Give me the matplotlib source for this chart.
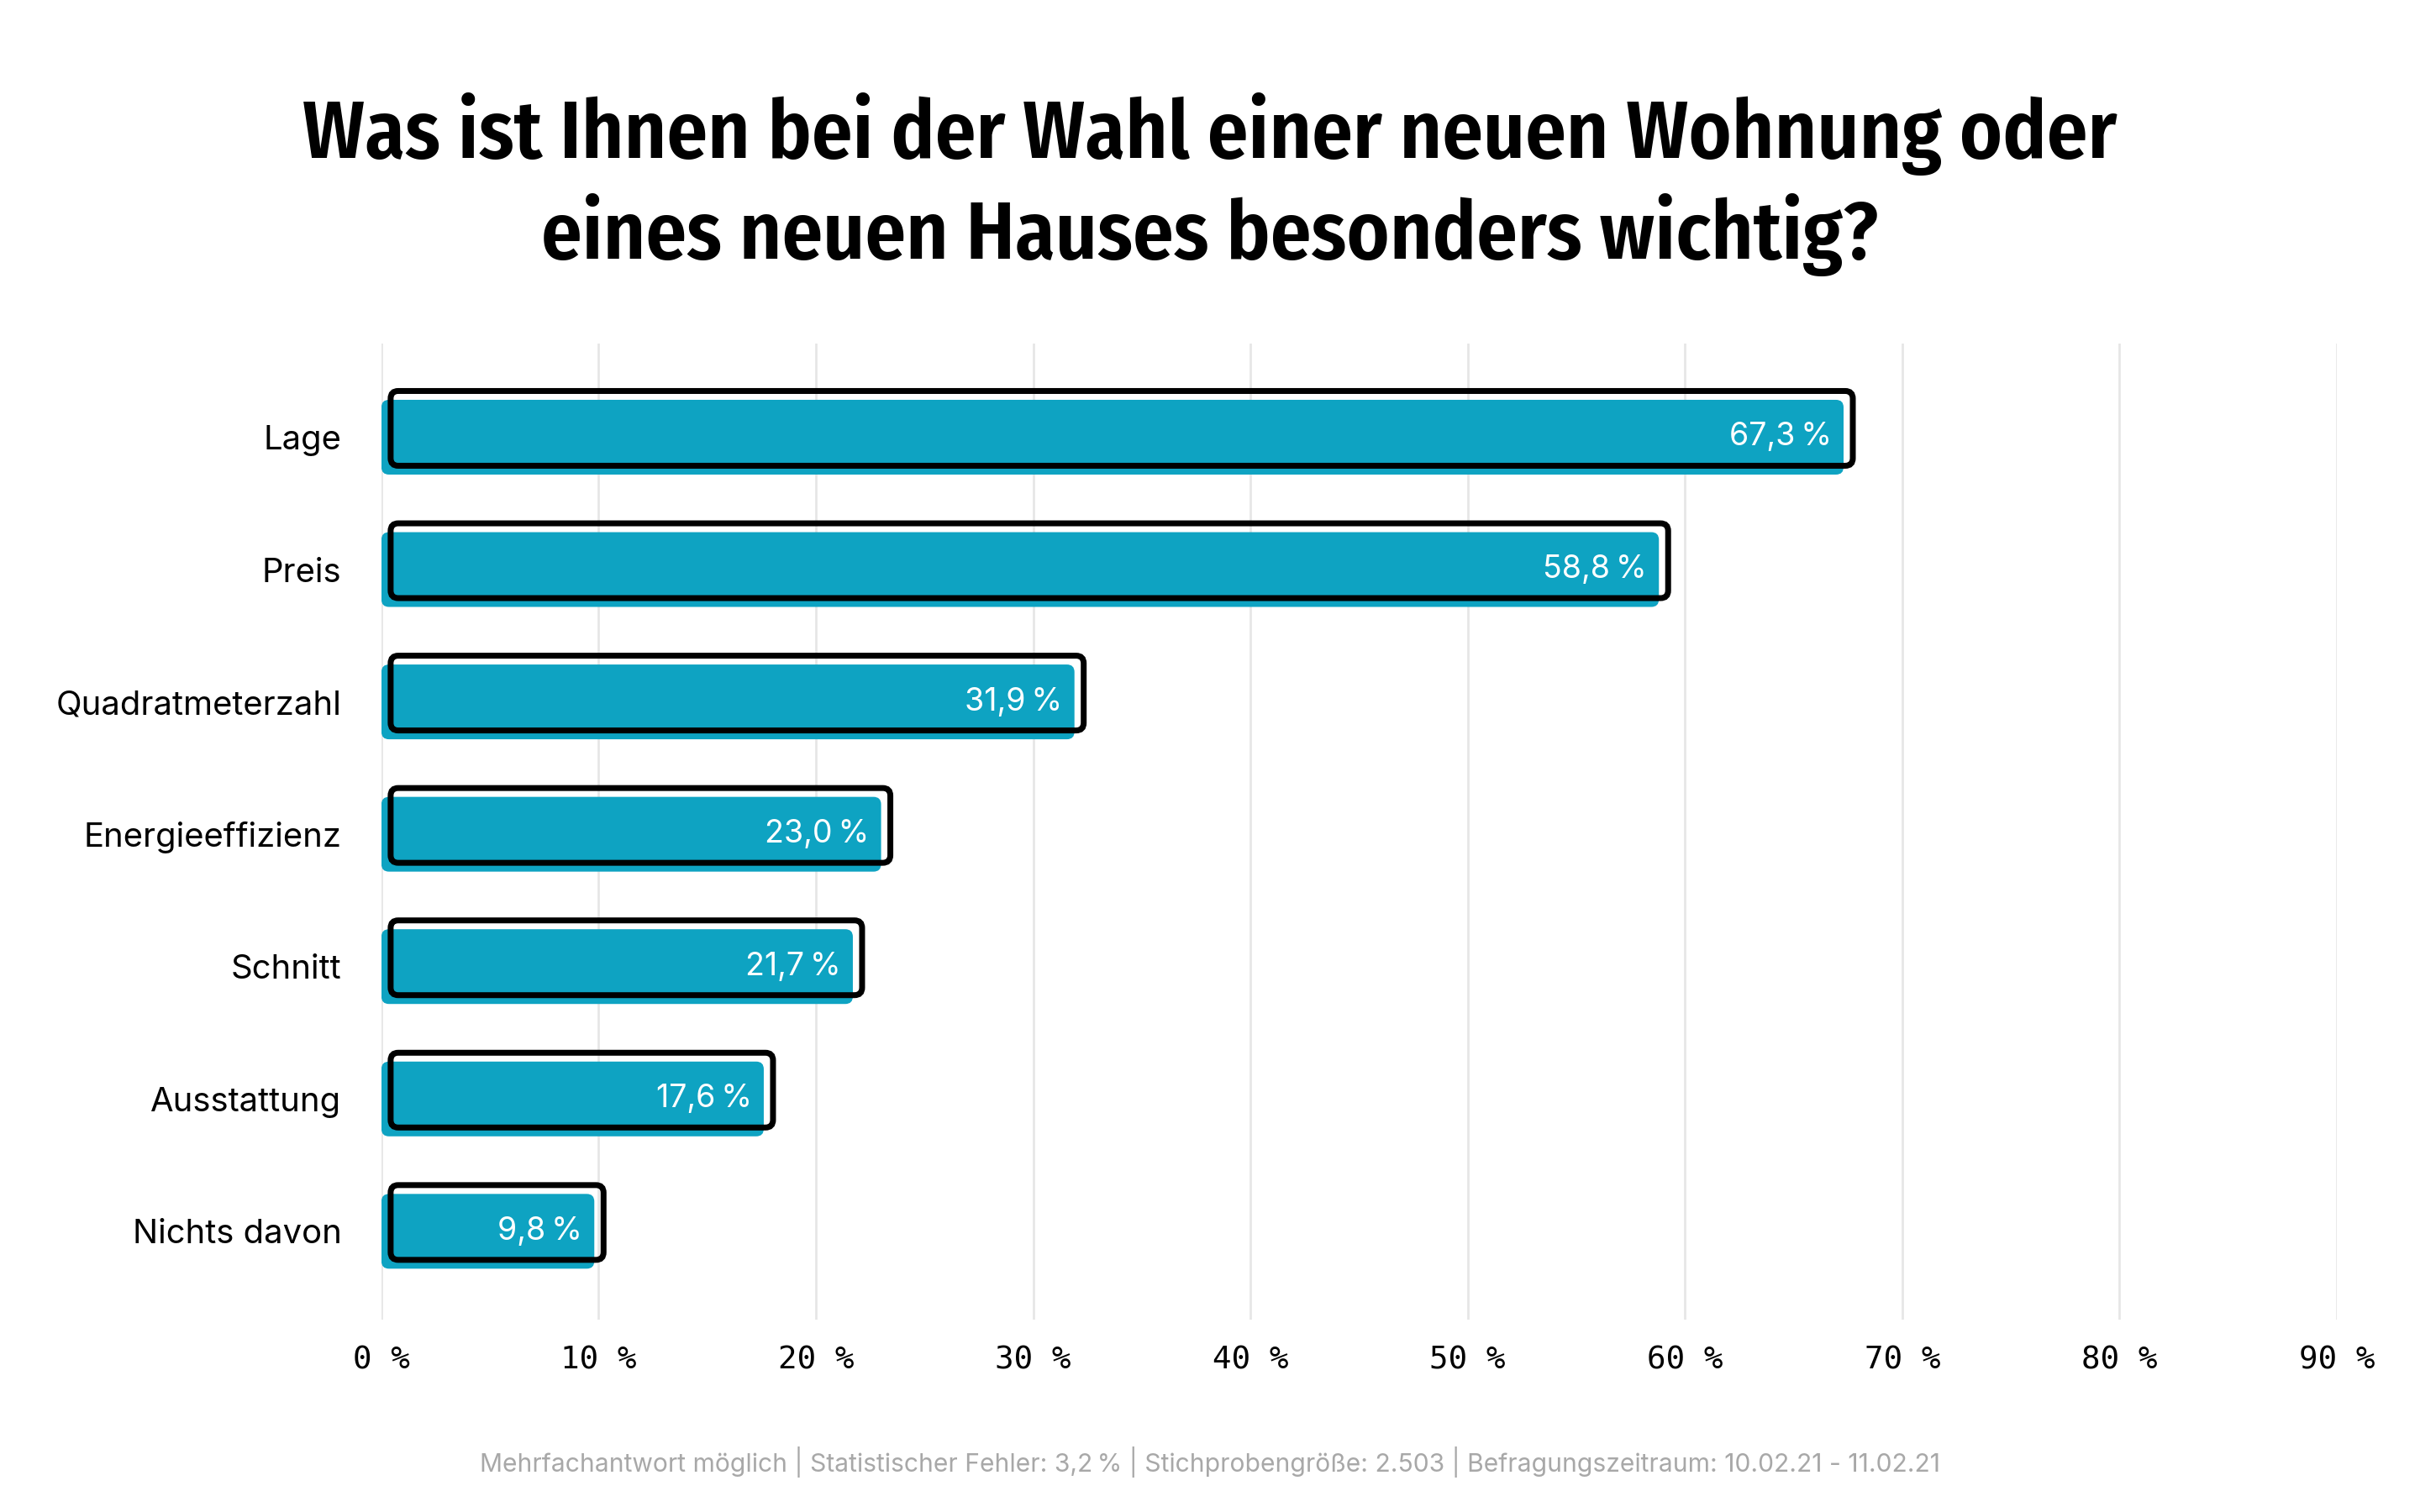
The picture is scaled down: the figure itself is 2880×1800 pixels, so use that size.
import matplotlib.pyplot as plt
from matplotlib.patches import FancyBboxPatch
from matplotlib import font_manager
from matplotlib.font_manager import FontProperties

categories = ["Lage", "Preis", "Quadratmeterzahl", "Energieeffizienz",
              "Schnitt", "Ausstattung", "Nichts davon"]
values = [67.3, 58.8, 31.9, 23.0, 21.7, 17.6, 9.8]
xticks = [0, 10, 20, 30, 40, 50, 60, 70, 80, 90]

title_lines = ["Was ist Ihnen bei der Wahl einer neuen Wohnung oder",
               "eines neuen Hauses besonders wichtig?"]
footer = ("Mehrfachantwort möglich | Statistischer Fehler: 3,2\u202f% | "
          "Stichprobengröße: 2.503 | Befragungszeitraum: 10.02.21 - 11.02.21")

teal = "#0ea3c2"
NS = "\u202f"  # narrow space before the percent sign


def is_condensed(f):
    return ("Condensed" in f.name or "Narrow" in f.name
            or f.stretch in ("condensed", "semi-condensed"))


# condensed face for the title, medium/semibold preferred over bold
fonts = [f for f in font_manager.fontManager.ttflist
         if is_condensed(f) and "Italic" not in f.fname and f.style == "normal"]
title_prop = None
for wanted in (600, 500, 700):
    hits = [f for f in fonts if f.weight == wanted]
    if hits:
        hits.sort(key=lambda f: ("Fira" not in f.name, f.name))
        title_prop = FontProperties(fname=hits[0].fname)
        break
if title_prop is None:
    title_prop = FontProperties(family="Roboto", weight="bold")

plt.rcParams["font.family"] = ["Inter", "DejaVu Sans"]

fig = plt.figure(figsize=(16, 10), dpi=180)
ax = fig.add_axes([0.1576, 0.127, 0.8080, 0.646])
ax.set_xlim(0, 90)
ax.set_ylim(6.67, -0.71)

fig.canvas.draw()
# pixel -> data scale, for rounded corners and the offset outline
x_per_px = 90 / (ax.bbox.width)
y_per_px = 7.38 / (ax.bbox.height)
aspect = y_per_px / x_per_px

bar_h = 89 * y_per_px
r = 9 * x_per_px
dx = 11 * x_per_px
dy = 10.5 * y_per_px

for i, v in enumerate(values):
    fill = FancyBboxPatch((0, i - bar_h / 2), v, bar_h,
                          boxstyle=f"round,pad=0,rounding_size={r}",
                          mutation_aspect=aspect, facecolor=teal,
                          edgecolor="none", zorder=2)
    ax.add_patch(fill)
    outline = FancyBboxPatch((dx, i - dy - bar_h / 2), v, bar_h,
                             boxstyle=f"round,pad=0,rounding_size={r}",
                             mutation_aspect=aspect, facecolor="none",
                             edgecolor="black", linewidth=2.8, zorder=3)
    ax.add_patch(outline)
    label = f"{v:.1f}".replace(".", ",") + NS + "%"
    ax.text(v - 14 * x_per_px, i, label, color="white", fontsize=15,
            ha="right", va="center", zorder=4)

ax.set_yticks(range(len(categories)))
ax.set_yticklabels(categories, fontsize=16)
ax.set_xticks(xticks)
ax.set_xticklabels([f"{t}{NS}%" for t in xticks], fontsize=15,
                   family=["DejaVu Sans Mono", "DejaVu Sans"])
ax.tick_params(axis="y", length=0, pad=19)
ax.tick_params(axis="x", length=0, pad=12)
ax.grid(axis="x", color="#e6e6e6", linewidth=1.1, zorder=0)
ax.set_axisbelow(True)
for s in ax.spines.values():
    s.set_visible(False)

# title: two lines, size fitted so the first line is ~2158 px wide
t1 = fig.text(0.5, 0.8956, title_lines[0], ha="center", va="baseline",
              fontproperties=title_prop, fontsize=40)
fig.canvas.draw()
w = t1.get_window_extent().width
size = min(40, 40 * 2158 / w)
t1.set_fontsize(size)
fig.text(0.5, 0.8289, title_lines[1], ha="center", va="baseline",
         fontproperties=title_prop, fontsize=size)

fig.text(0.5, 0.033, footer, ha="center", va="center", fontsize=12,
         color="#a8a8a8")

fig.savefig("out.png", dpi=180, facecolor="white")
